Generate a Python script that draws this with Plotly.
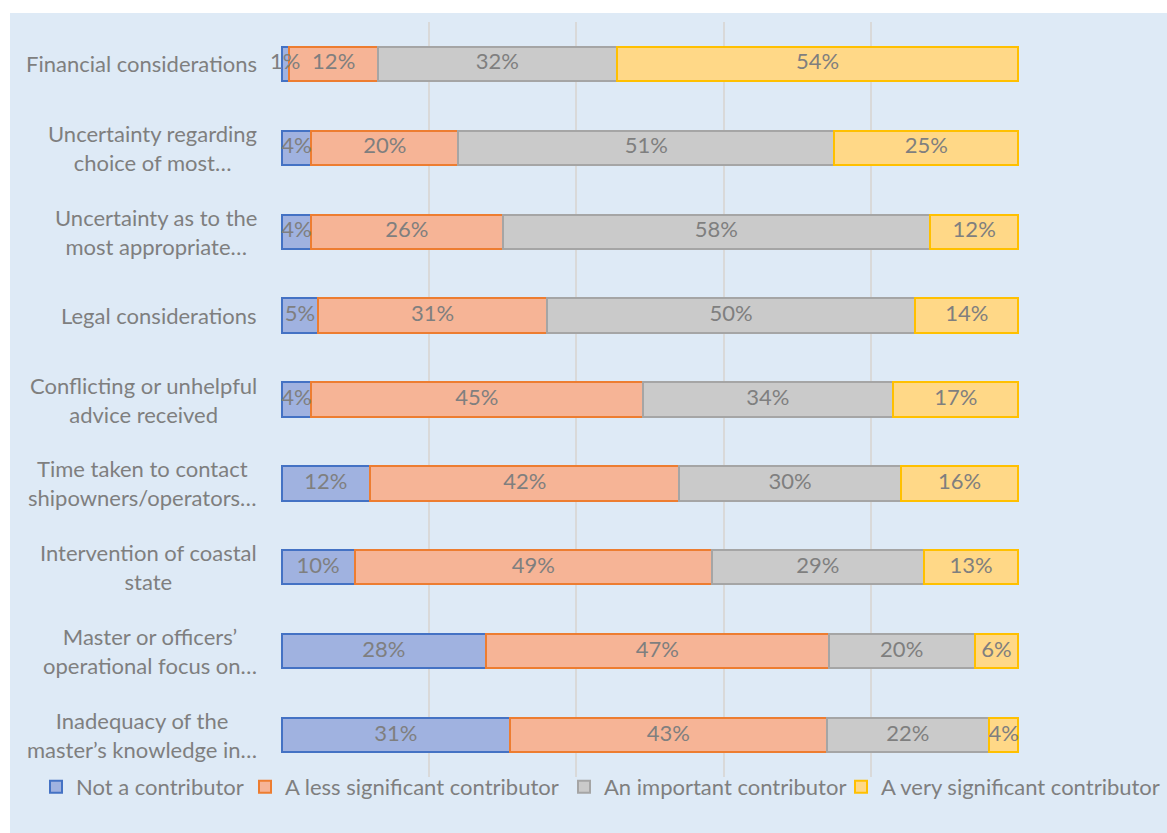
import plotly.graph_objects as go

categories = [
    "Financial considerations",
    "Uncertainty regarding<br>choice of most…",
    "Uncertainty as to the<br>most appropriate…",
    "Legal considerations",
    "Conflicting or unhelpful<br>advice received",
    "Time taken to contact<br>shipowners/operators…",
    "Intervention of coastal<br>state",
    "Master or officers’<br>operational focus on…",
    "Inadequacy of the<br>master’s knowledge in…",
]
not_contrib = [1, 4, 4, 5, 4, 12, 10, 28, 31]
less_sig = [12, 20, 26, 31, 45, 42, 49, 47, 43]
important = [32, 51, 58, 50, 34, 30, 29, 20, 22]
very_sig = [54, 25, 12, 14, 17, 16, 13, 6, 4]

series = [
    ("Not a contributor", not_contrib, "#A0B2E0", "#4472C4"),
    ("A less significant contributor", less_sig, "#F6B496", "#ED7D31"),
    ("An important contributor", important, "#CACACA", "#A5A5A5"),
    ("A very significant contributor", very_sig, "#FFD887", "#FFC000"),
]

FONT = "Lato"
GRAY = "#7F7F7F"
FS = 22

# figure is a bit wider than the 1167px window (clipped) so the last legend
# entry never forces plotly to shrink the plot area
W, H = 1210, 833
L, T = 281, 22
pw, ph = 738, 755
R, B = W - L - pw, H - T - ph

fig = go.Figure()
legend_ids = ["legend", "legend2", "legend3", "legend4"]
for (name, vals, fill, line), lid in zip(series, legend_ids):
    fig.add_trace(go.Bar(
        y=categories, x=vals, name=name, orientation="h",
        marker=dict(color=fill, line=dict(color=line, width=2)),
        legend=lid, hoverinfo="name+x",
    ))

# value labels drawn on top of all bars (100% stacked -> normalised midpoints)
totals = [sum(s[1][i] for s in series) for i in range(len(categories))]
cum = [0.0] * len(categories)
for name, vals, fill, line in series:
    mids = []
    for i, v in enumerate(vals):
        share = v / totals[i] * 100
        mids.append(cum[i] + share / 2)
        cum[i] += share
    fig.add_trace(go.Scatter(
        x=mids, y=categories, mode="text",
        text=[f"{v}%" for v in vals],
        textfont=dict(family=FONT, size=FS, color=GRAY),
        showlegend=False, hoverinfo="skip", cliponaxis=False,
    ))

annotations = []
for c in categories:
    annotations.append(dict(
        x=0, xref="paper", y=c, yref="y", xshift=-22, xanchor="right",
        text=c, showarrow=False, align="center",
        font=dict(family=FONT, size=FS, color=GRAY),
    ))

# legend left positions (px) chosen to line up with the reference entries
legend_left = [36, 245, 564, 841]
legend_y = -(787 - (T + ph)) / ph
legends = {}
for lid, lx in zip(legend_ids, legend_left):
    legends[lid] = dict(
        orientation="h", x=(lx - L) / pw, xanchor="left",
        y=legend_y, yanchor="middle", bgcolor="rgba(0,0,0,0)",
        font=dict(family=FONT, size=FS, color=GRAY),
        itemwidth=30, borderwidth=0,
    )

fig.update_layout(
    width=W, height=H,
    margin=dict(l=L, r=R, t=T, b=B, pad=0),
    barmode="stack", barnorm="percent", bargap=0.59,
    paper_bgcolor="white", plot_bgcolor="#DEEAF6",
    font=dict(family=FONT, size=FS, color=GRAY),
    xaxis=dict(range=[-0.08, 100.08], tickvals=[0, 20, 40, 60, 80, 100],
               showticklabels=False,
               showgrid=True, gridcolor="#D9D9D9", gridwidth=1.5,
               zeroline=False, showline=False, fixedrange=True),
    yaxis=dict(autorange="reversed", showticklabels=False, showgrid=False,
               zeroline=False, showline=False),
    annotations=annotations,
    shapes=[dict(type="rect", xref="paper", yref="paper",
                 x0=(10 - L) / pw, x1=(W + 20 - L) / pw,
                 y0=-(B + 20) / ph, y1=(ph + T - 13) / ph,
                 fillcolor="#DEEAF6", line=dict(width=0), layer="below")],
    **legends,
)

fig.write_html("out.html",
               config={"displayModeBar": False},
               post_script="document.body.style.margin='0px';"
                           "document.body.style.overflow='hidden';")
